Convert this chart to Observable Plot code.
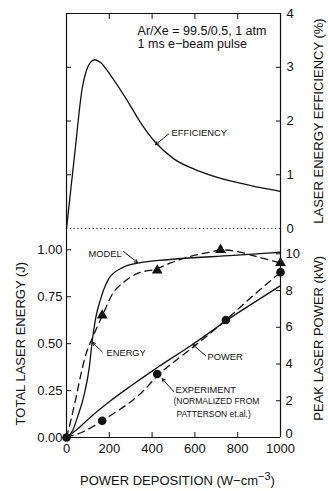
<!DOCTYPE html>
<html><head><meta charset="utf-8">
<script src="https://cdn.jsdelivr.net/npm/d3@7"></script>
<script src="https://cdn.jsdelivr.net/npm/@observablehq/plot@0.6"></script>
<style>
body{margin:0;background:#fff;}
#chart{position:relative;width:328px;height:491px;font-family:"Liberation Sans",Arial,Helvetica,sans-serif;color:#111;}
#chart svg{position:absolute;left:0;top:0;}
#xtitle{position:absolute;left:80px;top:474px;font-size:13px;line-height:13px;white-space:nowrap;color:#111;}
#xtitle sup{font-size:11px;line-height:0;vertical-align:5px;}
</style></head><body>
<div id="chart"><div id="xtitle">POWER DEPOSITION (W−cm<sup>−3</sup>)</div></div>
<script>
// ---- tick values ----
const xTicks = [0, 200, 400, 600, 800, 1000];
const efficiencyTicks = [0, 1, 2, 3, 4];
const energyTicks = [0, 0.25, 0.5, 0.75, 1.0];
const powerTicks = [0, 2, 4, 6, 8, 10];

// ---- laser energy efficiency (model), % ----
const effDeposition = [0, 40, 73, 93, 112, 132, 159, 206, 284, 346, 416, 500, 626, 780, 907, 1000];
const effPercent    = [0, 1.45, 2.6, 2.94, 3.09, 3.14, 3.09, 2.85, 2.38, 1.97, 1.6, 1.3, 1.06, 0.87, 0.76, 0.69];

// ---- total laser energy, J ----
const modelEnergyDeposition = [0, 30, 51, 83, 106, 121, 137, 160, 200, 262, 340, 471, 780, 1000];
const modelEnergyJ          = [0, 0.04, 0.107, 0.23, 0.37, 0.52, 0.64, 0.74, 0.85, 0.905, 0.93, 0.947, 0.97, 0.987];
const exptEnergyFitDeposition = [0, 20, 44, 70, 90, 121, 168, 215, 270, 324, 424, 486, 580, 680, 720, 800, 900, 1000];
const exptEnergyFitJ          = [0, 0.09, 0.21, 0.35, 0.44, 0.53, 0.65, 0.765, 0.83, 0.87, 0.9, 0.93, 0.965, 0.99, 1.0, 0.99, 0.96, 0.93];
const exptEnergyDeposition = [167, 424, 720, 1000];
const exptEnergyJ          = [0.65, 0.89, 1.0, 0.93];

// ---- peak laser power, kW ----
const modelPowerDeposition = [0, 60, 121, 206, 300, 361, 430, 587, 673, 745, 870, 1000];
const modelPowerKW         = [0, 0.55, 1.2, 2.0, 2.8, 3.3, 3.85, 5.05, 5.75, 6.35, 7.3, 8.27];
const exptPowerFitDeposition = [0, 75, 167, 215, 308, 360, 424, 517, 611, 745, 870, 1000];
const exptPowerFitKW         = [0, 0.3, 0.91, 1.27, 2.02, 2.55, 3.35, 4.25, 5.1, 6.4, 7.7, 9.0];
const exptPowerDeposition = [0, 167, 424, 745, 1000];
const exptPowerKW         = [0, 0.91, 3.46, 6.40, 9.0];

// ---- annotations (data coordinates) ----
const effNotes = [
  {x: 332, y: 3.68, text: "Ar/Xe = 99.5/0.5, 1 atm", size: 12.5},
  {x: 332, y: 3.44, text: "1 ms e−beam pulse", size: 12.5},
  {x: 491, y: 1.77, text: "EFFICIENCY", size: 9.3}
];
const effArrows = [{x1: 478, y1: 1.76, x2: 416, y2: 1.56}];
const energyNotes = [
  {x: 103, y: 0.975, text: "MODEL", size: 9.3},
  {x: 187, y: 0.452, text: "ENERGY", size: 9.3}
];
const energyArrows = [
  {x1: 266, y1: 0.991, x2: 332, y2: 0.932},
  {x1: 168, y1: 0.455, x2: 121, y2: 0.507}
];
const powerNotes = [
  {x: 659, y: 4.4, text: "POWER", size: 9.3},
  {x: 509, y: 2.6, text: "EXPERIMENT", size: 9.3},
  {x: 500, y: 1.95, text: "(NORMALIZED FROM", size: 8.5},
  {x: 514, y: 1.29, text: "PATTERSON et.al.)", size: 8.5}
];
const powerArrows = [
  {x1: 650, y1: 4.45, x2: 590, y2: 5.07},
  {x1: 501, y1: 2.5, x2: 447, y2: 3.2}
];
// axis titles, placed at the middle of their axis (value on that axis)
const effTitle = [{y: 2, text: "LASER ENERGY EFFICIENCY (%)"}];
const energyTitle = [{y: 0.5, text: "TOTAL LASER ENERGY (J)"}];
const powerTitle = [{y: 5.4, text: "PEAK LASER POWER (kW)"}];

const zip = (xs, ys) => xs.map((x, i) => ({x, y: ys[i]}));
const W = 328, H = 491, ML = 66, MR = 48;
const css = "font-family: 'Liberation Sans', Arial, Helvetica, sans-serif; font-size: 13px; background: transparent; overflow: visible; color: #111;";
const base = (o) => Object.assign({width: W, height: H, marginLeft: ML, marginRight: MR, style: css, x: {domain: [0, 1000]}}, o);
const inner = xTicks.slice(1, -1);
const notes = (arr) => arr.map(d => Plot.text([d], {x: "x", y: "y", text: "text", textAnchor: "start", lineAnchor: "middle", fontSize: d.size, fill: "#111"}));
const arrows = (arr) => Plot.arrow(arr, {x1: "x1", y1: "y1", x2: "x2", y2: "y2", headLength: 5, headAngle: 55, strokeWidth: 1, stroke: "#111"});
const title = (arr, side, dx) => Plot.text(arr, {y: "y", text: "text", frameAnchor: side, dx, rotate: -90, textAnchor: "middle", lineAnchor: "middle", fontSize: 13, fill: "#111"});
const intFmt = d3.format("d");

const topPlot = Plot.plot(base({
  marginTop: 13, marginBottom: H - 228,
  y: {domain: [0, 4]},
  marks: [
    Plot.ruleY([0], {strokeDasharray: "1.2,2.6", strokeWidth: 1, stroke: "#222"}),
    Plot.ruleY([4], {strokeWidth: 1.2, stroke: "#111"}),
    Plot.ruleX([0, 1000], {strokeWidth: 1.2, stroke: "#111"}),
    Plot.axisX({anchor: "top", ticks: inner, tickSize: 5, dy: 5, fill: "none", label: null}),
    Plot.axisY({anchor: "left", ticks: [1, 2, 3], tickSize: 5, dx: 5, fill: "none", label: null}),
    Plot.axisY({anchor: "right", ticks: [1, 2, 3], tickSize: 5, dx: -5, fill: "none", label: null}),
    Plot.axisY({anchor: "right", ticks: efficiencyTicks, tickSize: 0, tickPadding: 6, tickFormat: intFmt, label: null}),
    Plot.line(zip(effDeposition, effPercent), {x: "x", y: "y", curve: "monotone-x", strokeWidth: 1.3, stroke: "#111"}),
    ...notes(effNotes),
    arrows(effArrows),
    title(effTitle, "right", 38)
  ]
}));

const energyPlot = Plot.plot(base({
  marginTop: 228, marginBottom: 54,
  y: {domain: [0, 1], range: [437, 249.3]},
  marks: [
    Plot.ruleX([0, 1000], {strokeWidth: 1.2, stroke: "#111"}),
    Plot.ruleY([0], {strokeWidth: 1.2, stroke: "#111"}),
    Plot.axisX({anchor: "bottom", ticks: inner, tickSize: 5, dy: -5, fill: "none", label: null}),
    Plot.axisX({anchor: "bottom", ticks: xTicks, tickSize: 0, tickPadding: 6, tickFormat: intFmt, label: null}),
    Plot.axisY({anchor: "left", ticks: energyTicks.slice(1), tickSize: 5, dx: 5, fill: "none", label: null}),
    Plot.axisY({anchor: "left", ticks: energyTicks, tickSize: 0, tickPadding: 4, tickFormat: d3.format(".2f"), label: null}),
    Plot.line(zip(modelEnergyDeposition, modelEnergyJ), {x: "x", y: "y", curve: "monotone-x", strokeWidth: 1.3, stroke: "#111"}),
    Plot.line(zip(exptEnergyFitDeposition, exptEnergyFitJ), {x: "x", y: "y", curve: "monotone-x", strokeWidth: 1.3, stroke: "#111", strokeDasharray: "7,5"}),
    Plot.dot(zip(exptEnergyDeposition, exptEnergyJ), {x: "x", y: "y", symbol: "triangle", r: 4, fill: "#111"}),
    ...notes(energyNotes),
    arrows(energyArrows),
    title(energyTitle, "left", -46)
  ]
}));

const powerPlot = Plot.plot(base({
  marginTop: 228, marginBottom: 54,
  x: {domain: [0, 1000], axis: null},
  y: {domain: [0, 10], range: [437, 253.3]},
  marks: [
    Plot.axisY({anchor: "right", ticks: powerTicks.slice(1), tickSize: 5, dx: -5, fill: "none", label: null}),
    Plot.axisY({anchor: "right", ticks: powerTicks.slice(1), tickSize: 0, tickPadding: 5, tickFormat: intFmt, label: null}),
    Plot.axisY({anchor: "right", ticks: powerTicks.slice(0, 1), tickSize: 0, tickPadding: 5, dy: -4, tickFormat: intFmt, label: null}),
    Plot.line(zip(modelPowerDeposition, modelPowerKW), {x: "x", y: "y", curve: "monotone-x", strokeWidth: 1.3, stroke: "#111"}),
    Plot.line(zip(exptPowerFitDeposition, exptPowerFitKW), {x: "x", y: "y", curve: "monotone-x", strokeWidth: 1.3, stroke: "#111", strokeDasharray: "7,5"}),
    Plot.dot(zip(exptPowerDeposition, exptPowerKW), {x: "x", y: "y", r: 4.3, fill: "#111"}),
    ...notes(powerNotes),
    arrows(powerArrows),
    title(powerTitle, "right", 38)
  ]
}));

const chart = document.getElementById("chart");
chart.appendChild(topPlot);
chart.appendChild(energyPlot);
chart.appendChild(powerPlot);
</script>
</body></html>
